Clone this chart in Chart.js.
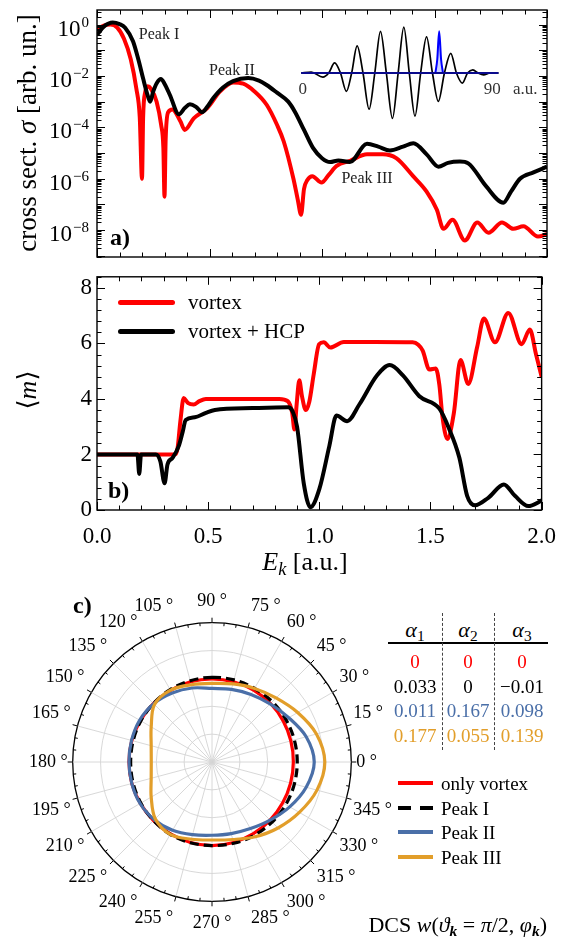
<!DOCTYPE html>
<html>
<head>
<meta charset="utf-8">
<script src="https://cdn.jsdelivr.net/npm/chart.js@4.4.1/dist/chart.umd.min.js"></script>
<style>
  body { margin: 0; background: #fff; }
  #page { position: relative; width: 569px; height: 937px; overflow: hidden; font-family: "Liberation Serif", "Times New Roman", "DejaVu Serif", serif; color: #000; }
  canvas { position: absolute; }
  .t { position: absolute; white-space: nowrap; line-height: 1; transform: translate(-50%, -50%); }
  .l { position: absolute; white-space: nowrap; line-height: 1; transform: translateY(-50%); }
  .rot { transform: translate(-50%, -50%) rotate(-90deg); }
  .key { position: absolute; height: 4px; }
  .dash { position: absolute; width: 0; border-left: 1.3px dashed #444; }
  sub { font-size: 70%; vertical-align: -0.25em; line-height: 0; }
</style>
</head>
<body>
<div id="page">
  <canvas id="sigmaChart" width="569" height="262" style="left:0;top:0"></canvas>
  <canvas id="mChart" width="569" height="300" style="left:0;top:258px"></canvas>
  <canvas id="fieldChart" width="263" height="110" style="left:286px;top:18px"></canvas>
  <canvas id="dcsChart" width="367" height="367" style="left:19px;top:578px"></canvas>

  <!-- panel labels and axis titles -->
  <div class="t rot" style="left:27px;top:133px;font-size:27px">cross sect. <i>σ</i> [arb. un.]</div>
  <div class="t rot" style="left:28px;top:390px;font-size:26px">⟨<i>m</i>⟩</div>
  <div class="t" style="left:305px;top:562px;font-size:26px"><i>E</i><sub><i>k</i></sub> [a.u.]</div>
  <div class="l" style="left:110px;top:237px;font-size:24px;font-weight:bold">a)</div>
  <div class="l" style="left:108px;top:490px;font-size:24px;font-weight:bold">b)</div>
  <div class="l" style="left:73px;top:605px;font-size:24px;font-weight:bold">c)</div>
  <div class="t" style="left:159px;top:34px;font-size:16px;color:#222">Peak I</div>
  <div class="t" style="left:232px;top:70px;font-size:16px;color:#222">Peak II</div>
  <div class="t" style="left:367px;top:178px;font-size:16px;color:#222">Peak III</div>

  <!-- legend panel b -->
  <div class="key" style="left:118px;top:300px;width:57px;height:5px;background:#ff0000;border-radius:3px"></div>
  <div class="l" style="left:188px;top:302px;font-size:21px">vortex</div>
  <div class="key" style="left:118px;top:329px;width:57px;height:5px;background:#000;border-radius:3px"></div>
  <div class="l" style="left:188px;top:331px;font-size:21px">vortex + HCP</div>

  <!-- table panel c -->
  <div class="t" style="left:415px;top:630px;font-size:22px"><i>α</i><sub>1</sub></div>
  <div class="t" style="left:468px;top:630px;font-size:22px"><i>α</i><sub>2</sub></div>
  <div class="t" style="left:522px;top:630px;font-size:22px"><i>α</i><sub>3</sub></div>
  <div style="position:absolute;left:388px;top:642px;width:160px;height:1.6px;background:#000"></div>
  <div class="dash" style="left:442px;top:613px;height:137px"></div>
  <div class="dash" style="left:494px;top:613px;height:137px"></div>
  <div class="t" style="left:415px;top:661px;font-size:19px;color:#ff0000">0</div>
  <div class="t" style="left:468px;top:661px;font-size:19px;color:#ff0000">0</div>
  <div class="t" style="left:522px;top:661px;font-size:19px;color:#ff0000">0</div>
  <div class="t" style="left:415px;top:686px;font-size:19px">0.033</div>
  <div class="t" style="left:468px;top:686px;font-size:19px">0</div>
  <div class="t" style="left:522px;top:686px;font-size:19px">−0.01</div>
  <div class="t" style="left:415px;top:710px;font-size:19px;color:#4a6fa8">0.011</div>
  <div class="t" style="left:468px;top:710px;font-size:19px;color:#4a6fa8">0.167</div>
  <div class="t" style="left:522px;top:710px;font-size:19px;color:#4a6fa8">0.098</div>
  <div class="t" style="left:415px;top:735px;font-size:19px;color:#e29e2a">0.177</div>
  <div class="t" style="left:468px;top:735px;font-size:19px;color:#e29e2a">0.055</div>
  <div class="t" style="left:522px;top:735px;font-size:19px;color:#e29e2a">0.139</div>

  <!-- legend panel c -->
  <div class="key" style="left:398px;top:781px;width:35px;background:#ff0000"></div>
  <div class="l" style="left:441px;top:783px;font-size:19px">only vortex</div>
  <div class="key" style="left:398px;top:806px;width:13px;background:#000"></div>
  <div class="key" style="left:420px;top:806px;width:13px;background:#000"></div>
  <div class="l" style="left:441px;top:808px;font-size:19px">Peak I</div>
  <div class="key" style="left:398px;top:830px;width:35px;background:#4a6fa8"></div>
  <div class="l" style="left:441px;top:832px;font-size:19px">Peak II</div>
  <div class="key" style="left:398px;top:855px;width:35px;background:#e29e2a"></div>
  <div class="l" style="left:441px;top:857px;font-size:19px">Peak III</div>
  <div class="l" style="right:22px;top:925px;font-size:22px">DCS <i>w</i>(<i>ϑ</i><sub><b><i>k</i></b></sub> = <i>π</i>/2, <i>φ</i><sub><b><i>k</i></b></sub>)</div>
</div>

<script>
// panel a: cross section (log10 of sigma) vs photoelectron energy
const eVortexA = [0.00, 0.03, 0.06, 0.09, 0.12, 0.15, 0.175, 0.19, 0.2, 0.205, 0.215, 0.225, 0.24, 0.265, 0.285, 0.295, 0.3, 0.305, 0.317, 0.335, 0.37, 0.39, 0.43, 0.49, 0.547, 0.605, 0.65, 0.70, 0.754, 0.80, 0.83, 0.873, 0.892, 0.907, 0.92, 0.935, 0.957, 0.998, 1.03, 1.065, 1.125, 1.2, 1.27, 1.33, 1.405, 1.465, 1.51, 1.54, 1.58, 1.635, 1.69, 1.74, 1.80, 1.85, 1.895, 1.96, 2.0];
const logSigmaVortex = [-0.20, -0.04, 0.00, -0.12, -0.55, -1.35, -2.5, -3.6, -6.0, -3.6, -2.6, -2.4, -2.5, -3.0, -3.9, -4.8, -6.7, -4.5, -3.4, -3.3, -3.75, -4.1, -3.65, -3.25, -2.6, -2.25, -2.3, -2.6, -3.12, -3.9, -4.55, -6.0, -6.8, -7.4, -6.4, -6.05, -5.9, -6.15, -5.85, -5.5, -5.3, -5.05, -5.05, -5.2, -5.9, -6.5, -7.2, -7.95, -7.6, -8.4, -7.7, -8.1, -7.7, -7.95, -7.85, -8.25, -8.15];
const eHcpA = [0.0, 0.03, 0.07, 0.10, 0.125, 0.16, 0.185, 0.205, 0.225, 0.236, 0.25, 0.266, 0.284, 0.30, 0.324, 0.364, 0.39, 0.413, 0.44, 0.467, 0.49, 0.517, 0.56, 0.605, 0.672, 0.72, 0.754, 0.80, 0.85, 0.88, 0.92, 0.96, 1.0, 1.036, 1.073, 1.124, 1.2, 1.25, 1.302, 1.36, 1.406, 1.465, 1.517, 1.56, 1.613, 1.65, 1.73, 1.806, 1.84, 1.88, 1.94, 2.0];
const logSigmaHcp = [-0.40, -0.08, 0.08, 0.02, -0.12, -0.65, -1.4, -2.1, -2.75, -3.0, -2.6, -2.27, -2.12, -2.3, -2.74, -3.49, -3.25, -3.1, -3.2, -3.41, -3.2, -2.86, -2.45, -2.2, -2.08, -2.18, -2.35, -2.65, -3.0, -3.4, -4.1, -4.8, -5.2, -5.35, -5.29, -5.35, -4.64, -4.75, -4.9, -4.75, -4.62, -5.05, -5.53, -5.38, -5.33, -5.4, -6.3, -6.93, -6.5, -6.0, -5.75, -5.53];
const sigmaDecades = [-8, -6, -4, -2, 0];

// panel b: mean OAM projection <m>
const eVortexB = [0, 0.35, 0.362, 0.375, 0.39, 0.41, 0.435, 0.46, 0.49, 0.6, 0.82, 0.858, 0.878, 0.888, 0.898, 0.91, 0.922, 0.939, 0.955, 0.975, 0.999, 1.02, 1.05, 1.11, 1.25, 1.42, 1.445, 1.465, 1.495, 1.524, 1.54, 1.554, 1.576, 1.605, 1.635, 1.67, 1.71, 1.74, 1.79, 1.85, 1.91, 1.947, 1.975, 2.0];
const mVortex = [2.0, 2.0, 2.2, 3.2, 4.03, 3.85, 3.8, 3.92, 4.0, 4.0, 4.0, 3.92, 3.5, 2.9, 3.8, 4.67, 4.1, 3.6, 3.9, 4.9, 5.97, 6.04, 5.85, 6.05, 6.05, 6.04, 5.95, 5.74, 5.06, 5.1, 4.5, 3.35, 2.56, 3.48, 5.4, 4.54, 5.87, 6.9, 6.04, 7.1, 5.97, 6.5, 5.6, 4.8];
const eHcpB = [0, 0.182, 0.19, 0.198, 0.265, 0.285, 0.304, 0.317, 0.34, 0.369, 0.385, 0.399, 0.44, 0.49, 0.53, 0.7, 0.86, 0.88, 0.90, 0.93, 0.96, 1.0, 1.045, 1.077, 1.125, 1.18, 1.26, 1.317, 1.376, 1.45, 1.54, 1.58, 1.63, 1.665, 1.70, 1.76, 1.83, 1.88, 1.94, 1.99, 2.0];
const mHcp = [2.0, 2.0, 1.3, 2.0, 2.0, 1.75, 0.96, 1.64, 1.88, 2.33, 2.8, 3.24, 3.34, 3.5, 3.6, 3.67, 3.7, 3.55, 3.0, 0.96, 0.1, 0.75, 2.3, 3.4, 3.2, 3.8, 4.85, 5.22, 4.85, 4.1, 3.65, 3.0, 1.88, 0.51, 0.17, 0.44, 0.92, 0.51, 0.14, 0.3, 0.35];

// inset: pulse field (a.u. time) and the highlighted sub-pulse
const fieldT = [-0.8, 4, 9.5, 12.3, 15.1, 17.9, 20.7, 23.2, 25.8, 28.6, 31.5, 34.2, 36.9, 39.7, 42.6, 45.3, 48.0, 50.6, 53.3, 56.0, 58.8, 61.6, 64.4, 67.3, 70.3, 73.0, 75.8, 78.3, 80.8, 83.3, 85.9, 89, 93];
const fieldE = [0, 0.02, -0.09, 0, 0.22, 0, -0.40, 0, 0.59, 0, -0.79, 0, 0.91, 0, -0.99, 0, 1.0, 0, -0.94, 0, 0.79, 0, -0.62, 0, 0.43, 0, -0.22, 0, 0.07, 0, -0.04, 0, 0];
const pulseT = [63.0, 63.9, 64.8, 65.7, 66.6];
const pulseE = [0, 0.3, 0.91, 0.3, 0];
const baseT = [-0.8, 93];
const baseE = [0, 0];
const insetTicks = [0, 90];

// panel c: DCS in the polarization plane, phi in degrees
const phiDeg = [0, 15, 30, 45, 60, 75, 90, 105, 120, 135, 150, 165, 180, 195, 210, 225, 240, 255, 270, 285, 300, 315, 330, 345];
const dcsVortex = [2.92, 2.93, 2.95, 2.97, 2.98, 2.98, 2.98, 2.98, 2.97, 2.97, 2.97, 2.98, 2.98, 2.98, 2.97, 2.97, 2.98, 2.99, 3.0, 2.99, 2.97, 2.95, 2.93, 2.92];
const dcsPeakI = [3.06, 3.06, 3.06, 3.06, 3.05, 3.05, 3.04, 3.02, 3.0, 2.97, 2.95, 2.93, 2.92, 2.93, 2.95, 2.97, 3.0, 3.0, 3.0, 3.02, 3.04, 3.05, 3.06, 3.06];
const dcsPeakII = [3.67, 3.5, 3.18, 2.95, 2.8, 2.7, 2.64, 2.75, 2.86, 2.96, 3.0, 2.99, 2.98, 2.98, 2.98, 2.93, 2.83, 2.7, 2.63, 2.66, 2.76, 2.95, 3.22, 3.5];
const dcsPeakIII = [4.05, 3.88, 3.55, 3.25, 3.05, 2.9, 2.82, 2.87, 2.98, 2.92, 2.52, 2.26, 2.18, 2.26, 2.52, 2.88, 3.0, 2.87, 2.8, 2.88, 3.1, 3.35, 3.62, 3.9];

const BLUE = '#4a6fa8';
const ORANGE = '#e29e2a';
const FONT = '"Liberation Serif", "Times New Roman", "DejaVu Serif", serif';

// polar plot placement in the page
const POLAR_CX = 212, POLAR_CY = 762, POLAR_R = 140;

Chart.defaults.font.family = FONT;
Chart.defaults.color = '#000';
Chart.defaults.animation = false;
Chart.defaults.plugins.legend.display = false;
Chart.defaults.plugins.tooltip.enabled = false;

const pts = (xs, ys, f) => xs.map((x, i) => ({ x, y: f ? f(ys[i]) : ys[i] }));

// box frame with inward ticks on all four sides, plus log labels for panel a
const frameTicks = {
    id: 'frameTicks',
    afterDraw(chart, args, opts) {
        const { ctx, chartArea: a } = chart;
        const x = chart.scales.x, y = chart.scales.y;
        ctx.save();
        ctx.strokeStyle = '#000';
        ctx.lineWidth = 1;
        ctx.beginPath();
        opts.xTicks.forEach(([v, len]) => {
            const px = Math.round(x.getPixelForValue(v)) + 0.5;
            ctx.moveTo(px, a.bottom); ctx.lineTo(px, a.bottom - len);
            ctx.moveTo(px, a.top); ctx.lineTo(px, a.top + len);
        });
        opts.yTicks.forEach(([v, len]) => {
            const py = Math.round(y.getPixelForValue(v)) + 0.5;
            ctx.moveTo(a.left, py); ctx.lineTo(a.left + len, py);
            ctx.moveTo(a.right, py); ctx.lineTo(a.right - len, py);
        });
        ctx.stroke();
        ctx.lineWidth = 1.4;
        ctx.strokeRect(a.left, a.top, a.right - a.left, a.bottom - a.top);
        if (opts.decades) {
            ctx.fillStyle = '#000';
            ctx.textAlign = 'right';
            ctx.textBaseline = 'middle';
            opts.decades.forEach(d => {
                const py = y.getPixelForValue(Math.pow(10, d));
                const exp = d === 0 ? '0' : '\u2212' + (-d);
                ctx.font = '15px ' + FONT;
                const w = ctx.measureText(exp).width;
                ctx.fillText(exp, a.left - 8, py - 2);
                ctx.font = '23px ' + FONT;
                ctx.fillText('10', a.left - 9 - w, py + 5);
            });
        }
        ctx.restore();
    }
};

const energyTicks = [];
for (let i = 0; i <= 20; i++) energyTicks.push([i / 10, i % 5 === 0 ? 8 : 4.5]);

const SIGMA_MIN = 9e-10, SIGMA_MAX = 3.7;
const sigmaTicks = [];
for (let d = -10; d <= 0; d++) {
    for (let k = 1; k <= 9; k++) {
        const v = k * Math.pow(10, d);
        if (v >= SIGMA_MIN && v <= SIGMA_MAX) sigmaTicks.push([v, k === 1 ? 8 : 4.5]);
    }
}
const mTicks = [];
for (let i = 0; i <= 21; i++) mTicks.push([i * 0.4, i % 5 === 0 ? 8 : 4.5]);

const lineStyle = { pointRadius: 0, borderWidth: 4, cubicInterpolationMode: 'monotone', borderJoinStyle: 'round', fill: false };

// panel a
new Chart(document.getElementById('sigmaChart'), {
    type: 'line',
    data: {
        datasets: [
            { ...lineStyle, label: 'vortex + HCP', data: pts(eHcpA, logSigmaHcp, v => Math.pow(10, v)), borderColor: '#000' },
            { ...lineStyle, label: 'vortex', data: pts(eVortexA, logSigmaVortex, v => Math.pow(10, v)), borderColor: '#ff0000' }
        ]
    },
    options: {
        responsive: false,
        layout: { padding: { left: 97, right: 22, top: 10, bottom: 5 }, autoPadding: false },
        scales: {
            x: { type: 'linear', min: 0, max: 2, display: false },
            y: { type: 'logarithmic', min: SIGMA_MIN, max: SIGMA_MAX, display: false }
        },
        plugins: { frameTicks: { xTicks: energyTicks, yTicks: sigmaTicks, decades: sigmaDecades } }
    },
    plugins: [frameTicks]
});

// panel b
new Chart(document.getElementById('mChart'), {
    type: 'line',
    data: {
        datasets: [
            { ...lineStyle, label: 'vortex + HCP', data: pts(eHcpB, mHcp), borderColor: '#000' },
            { ...lineStyle, label: 'vortex', data: pts(eVortexB, mVortex), borderColor: '#ff0000' }
        ]
    },
    options: {
        responsive: false,
        layout: { padding: { left: 0, right: 22, top: 5, bottom: 0 }, autoPadding: false },
        scales: {
            x: {
                type: 'linear', min: 0, max: 2,
                grid: { display: false, drawTicks: false },
                border: { display: false },
                ticks: { stepSize: 0.5, padding: 13, maxRotation: 0, autoSkip: false, font: { size: 23 }, callback: v => v.toFixed(1) },
                afterFit: s => { s.height = 48; }
            },
            y: {
                min: 0, max: 8.4,
                grid: { display: false, drawTicks: false },
                border: { display: false },
                ticks: { stepSize: 2, includeBounds: false, padding: 5, font: { size: 23 } },
                afterFit: s => { s.width = 97; }
            }
        },
        plugins: { frameTicks: { xTicks: energyTicks, yTicks: mTicks } }
    },
    plugins: [frameTicks]
});

// inset: tick labels under the baseline
const insetLabels = {
    id: 'insetLabels',
    afterDraw(chart) {
        const { ctx } = chart;
        const x = chart.scales.x, y = chart.scales.y;
        const py = y.getPixelForValue(0) + 17;
        ctx.save();
        ctx.fillStyle = '#333';
        ctx.font = '17px ' + FONT;
        ctx.textAlign = 'center';
        ctx.textBaseline = 'middle';
        insetTicks.forEach(t => ctx.fillText(String(t), x.getPixelForValue(t), py));
        ctx.fillText('a.u.', x.getPixelForValue(105.7), py);
        ctx.restore();
    }
};

new Chart(document.getElementById('fieldChart'), {
    type: 'line',
    data: {
        datasets: [
            { data: pts(baseT, baseE), borderColor: '#0a0a8c', borderWidth: 2.2, pointRadius: 0, fill: false },
            { data: pts(pulseT, pulseE), borderColor: '#0000ff', borderWidth: 2, pointRadius: 0, cubicInterpolationMode: 'monotone', fill: 'origin', backgroundColor: 'rgba(110, 130, 255, 0.35)' },
            { data: pts(fieldT, fieldE), borderColor: '#000', borderWidth: 1.7, pointRadius: 0, cubicInterpolationMode: 'monotone', fill: false }
        ]
    },
    options: {
        responsive: false,
        layout: { padding: 0, autoPadding: false },
        scales: {
            x: { type: 'linear', min: -8, max: 117, display: false },
            y: { min: -1.2, max: 1.2, display: false }
        }
    },
    plugins: [insetLabels]
});

// panel c: polar plot, labels ordered clockwise from 90 deg at the top
const order = phiDeg.map((_, i) => (6 - i + 24) % 24);
const pick = arr => order.map(k => arr[k]);

const outerTicks = {
    id: 'outerTicks',
    afterDraw(chart) {
        const s = chart.scales.r;
        const { ctx } = chart;
        ctx.save();
        ctx.strokeStyle = '#000';
        ctx.lineWidth = 1;
        ctx.beginPath();
        for (let a = 0; a < 360; a += 5) {
            const rad = a * Math.PI / 180;
            const r0 = s.drawingArea;
            const r1 = a % 15 === 0 ? r0 + 5 : r0 - 3;
            ctx.moveTo(s.xCenter + r0 * Math.cos(rad), s.yCenter - r0 * Math.sin(rad));
            ctx.lineTo(s.xCenter + r1 * Math.cos(rad), s.yCenter - r1 * Math.sin(rad));
        }
        ctx.stroke();
        ctx.restore();
    }
};

const polarLine = { pointRadius: 0, borderWidth: 3.2, fill: false, backgroundColor: 'transparent', tension: 0.34 };

function makeDcsChart(size) {
    const canvas = document.getElementById('dcsChart');
    canvas.width = size;
    canvas.height = size;
    return new Chart(canvas, {
        type: 'radar',
        data: {
            labels: order.map(k => phiDeg[k] + ' °'),
            datasets: [
                { ...polarLine, label: 'Peak III', data: pick(dcsPeakIII), borderColor: ORANGE },
                { ...polarLine, label: 'Peak II', data: pick(dcsPeakII), borderColor: BLUE },
                { ...polarLine, label: 'Peak I', data: pick(dcsPeakI), borderColor: '#000', borderDash: [9, 5] },
                { ...polarLine, label: 'only vortex', data: pick(dcsVortex), borderColor: '#ff0000' }
            ]
        },
        options: {
            responsive: false,
            layout: { padding: 0 },
            scales: {
                r: {
                    min: 0, max: 5, startAngle: 0,
                    ticks: { display: false, stepSize: 1 },
                    grid: {
                        circular: true,
                        color: c => (c.tick && c.tick.value === 5 ? '#000' : '#d4d4d4'),
                        lineWidth: c => (c.tick && c.tick.value === 5 ? 1.3 : 0.9)
                    },
                    angleLines: { color: '#d4d4d4', lineWidth: 0.9 },
                    pointLabels: {
                        font: { size: 18, family: FONT },
                        color: '#000',
                        // labels near the top and bottom sit a bit further out
                        padding: c => 5 + Math.round(6 * Math.abs(Math.sin((90 - 15 * c.index) * Math.PI / 180)))
                    }
                }
            }
        },
        plugins: [outerTicks]
    });
}

// size the canvas so the radial scale ends up with the wanted radius, then place it
let dcsSize = 367;
let dcsChart = makeDcsChart(dcsSize);
for (let pass = 0; pass < 2; pass++) {
    const lost = dcsSize / 2 - dcsChart.scales.r.drawingArea;
    dcsSize = Math.round(2 * (POLAR_R + lost));
    dcsChart.destroy();
    dcsChart = makeDcsChart(dcsSize);
}
const rScale = dcsChart.scales.r;
const dcsCanvas = document.getElementById('dcsChart');
dcsCanvas.style.left = (POLAR_CX - rScale.xCenter) + 'px';
dcsCanvas.style.top = (POLAR_CY - rScale.yCenter) + 'px';
</script>
</body>
</html>
